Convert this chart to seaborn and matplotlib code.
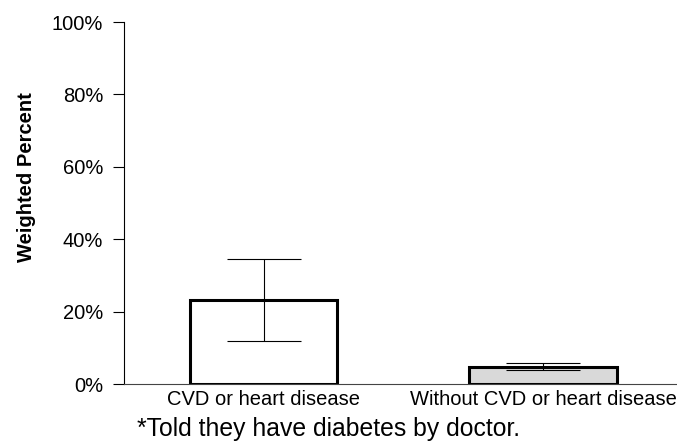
import numpy as np
import pandas as pd
import matplotlib
matplotlib.use("Agg")
import matplotlib.pyplot as plt
import seaborn as sns

# values (weighted percent)
categories = ["CVD or heart disease", "Without CVD or heart disease"]
percent = [23.1, 4.8]
ci_low = [12.0, 3.8]
ci_high = [34.4, 5.7]
fills = ["white", "#d9d9d9"]

df = pd.DataFrame({"group": categories, "pct": np.array(percent) / 100})

sns.set_style("white")
plt.rcParams["font.family"] = ["Liberation Sans", "DejaVu Sans"]
plt.rcParams["text.color"] = "black"
plt.rcParams["xtick.color"] = "black"
plt.rcParams["ytick.color"] = "black"
plt.rcParams["axes.labelcolor"] = "black"

fig = plt.figure(figsize=(6.77, 4.42), dpi=100)
ax = fig.add_axes([124 / 677, 1 - 384 / 442, 1 - 124 / 677, (384 - 22) / 442])

sns.barplot(data=df, x="group", y="pct", hue="group", palette=fills,
            width=0.527, edgecolor="black", linewidth=2.2, errorbar=None,
            legend=False, ax=ax)

lo = (np.array(percent) - np.array(ci_low)) / 100
hi = (np.array(ci_high) - np.array(percent)) / 100
ax.errorbar(range(len(categories)), df["pct"], yerr=[lo, hi], fmt="none",
            ecolor="black", elinewidth=0.8, capsize=26.3, capthick=0.8)

ax.set_ylim(0, 1)
ax.set_xlim(-0.5, 1.48)
ax.set_yticks(np.arange(0, 1.01, 0.2))
ax.set_yticklabels([f"{int(v * 100)}%" for v in np.arange(0, 1.01, 0.2)])

# category divider tick instead of centered ticks
ax.set_xticks([0.5], minor=True)
ax.tick_params(axis="x", which="major", length=0, labelsize=14.5, pad=4)
ax.tick_params(axis="x", which="minor", length=8, width=0.8, color="#444444")
ax.tick_params(axis="y", length=8, width=0.8, labelsize=14.5, pad=7, left=True)

ax.set_xlabel("")
ax.set_ylabel("Weighted Percent", fontsize=14.5, fontweight="bold")
ax.yaxis.set_label_coords(-0.16, 0.572)

for side in ["top", "right"]:
    ax.spines[side].set_visible(False)
ax.spines["left"].set_linewidth(0.8)
ax.spines["bottom"].set_linewidth(0.8)
ax.spines["left"].set_color("black")
ax.spines["bottom"].set_color("#444444")

fig.text(137 / 677, 1 - 436 / 442, "*Told they have diabetes by doctor.",
         fontsize=17.8, va="baseline", ha="left")

fig.savefig("out.png", dpi=100)
